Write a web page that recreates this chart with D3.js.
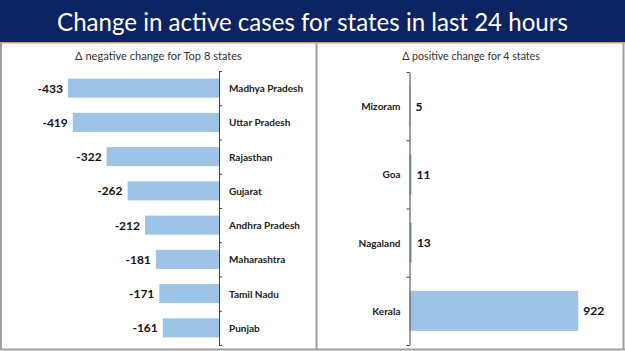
<!DOCTYPE html>
<html><head><meta charset="utf-8">
<script src="https://cdn.jsdelivr.net/npm/d3@7"></script>
<style>
html,body{margin:0;padding:0;background:#fff;}
svg{display:block;}
</style></head>
<body>
<script>
const titleText = "Change in active cases for states in last 24 hours";
const leftSubtitle = "\u0394 negative change for Top 8 states";
const rightSubtitle = "\u0394 positive change for 4 states";
const negStates = ["Madhya Pradesh","Uttar Pradesh","Rajasthan","Gujarat","Andhra Pradesh","Maharashtra","Tamil Nadu","Punjab"];
const negValues = [-433,-419,-322,-262,-212,-181,-171,-161];
const posStates = ["Mizoram","Goa","Nagaland","Kerala"];
const posValues = [5,11,13,922];

const W = 625, H = 351;
const font = "Lato, 'Open Sans', sans-serif";
const barColor = "#9dc3e6";

const svg = d3.select("body").append("svg").attr("width", W).attr("height", H);
svg.append("rect").attr("width", W).attr("height", H).attr("fill", "#fff");

// title bar
svg.append("rect").attr("x",0).attr("y",0).attr("width",W).attr("height",42).attr("fill","#0c2461");
svg.append("rect").attr("x",0).attr("y",42).attr("width",W).attr("height",1.5).attr("fill","#c9a27a");
const title = svg.append("text").attr("x", W/2).attr("y", 21).attr("text-anchor","middle")
  .attr("dominant-baseline","central").attr("fill","#fff")
  .style("font-family", font).style("font-size","26px").text(titleText);
{ const w = title.node().getComputedTextLength(); const fs = 26*511/w; title.style("font-size", fs+"px"); }

// panel borders
const border = "#a0a0a0";
svg.append("line").attr("x1",1).attr("x2",1).attr("y1",43).attr("y2",350).attr("stroke",border).attr("stroke-width",2);
svg.append("line").attr("x1",316.5).attr("x2",316.5).attr("y1",43).attr("y2",350).attr("stroke",border).attr("stroke-width",2);
svg.append("line").attr("x1",623.5).attr("x2",623.5).attr("y1",43).attr("y2",350).attr("stroke",border).attr("stroke-width",2);
svg.append("line").attr("x1",0).attr("x2",W).attr("y1",349.5).attr("y2",349.5).attr("stroke",border).attr("stroke-width",2);

function fitText(sel, target, base){ const w = sel.node().getComputedTextLength(); sel.style("font-size", (base*target/w)+"px"); }

// subtitles
const st1 = svg.append("text").attr("x",158.5).attr("y",55).attr("text-anchor","middle").attr("dominant-baseline","central")
  .attr("fill","#333").style("font-family",font).style("font-size","11px").text(leftSubtitle);
fitText(st1,167,11);
const st2 = svg.append("text").attr("x",471).attr("y",55).attr("text-anchor","middle").attr("dominant-baseline","central")
  .attr("fill","#333").style("font-family",font).style("font-size","11px").text(rightSubtitle);
fitText(st2,138,11);

// LEFT chart
const xL = d3.scaleLinear().domain([-500,0]).range([44.5,219]);
const yL = d3.scaleBand().domain(negStates).range([71,345]).paddingInner(0.445).paddingOuter(0.2225);
const gL = svg.append("g");
gL.selectAll("rect.bar").data(negStates).join("rect").attr("class","bar")
  .attr("x",(d,i)=>xL(negValues[i])).attr("width",(d,i)=>xL(0)-xL(negValues[i]))
  .attr("y",d=>yL(d)).attr("height",yL.bandwidth()).attr("fill",barColor);
const bL = d3.scaleLinear().domain([0,negStates.length]).range([71,345]);
gL.append("g").attr("transform",`translate(${xL(0)},0)`)
  .call(d3.axisRight(bL).tickValues(d3.range(negStates.length+1)).tickFormat("").tickSizeInner(3).tickSizeOuter(0))
  .call(g=>{g.select(".domain").attr("stroke","#404040");g.selectAll(".tick line").attr("stroke","#404040");});
gL.selectAll("text.cat").data(negStates).join("text").attr("class","cat")
  .attr("x",xL(0)+10).attr("y",d=>yL(d)+yL.bandwidth()/2).attr("dominant-baseline","central")
  .attr("fill","#222").style("font-family",font).style("font-weight","bold").style("font-size","10px").text(d=>d);
gL.selectAll("text.val").data(negStates).join("text").attr("class","val")
  .attr("x",(d,i)=>xL(negValues[i])-5).attr("y",d=>yL(d)+yL.bandwidth()/2).attr("text-anchor","end").attr("dominant-baseline","central")
  .attr("fill","#111").style("font-family",font).style("font-weight","bold").style("font-size","12px").text((d,i)=>negValues[i]);

// RIGHT chart
const xR = d3.scaleLinear().domain([0,1000]).range([409.5,592.5]);
const yR = d3.scaleBand().domain(posStates).range([72,345]).paddingInner(0.414).paddingOuter(0.207);
const gR = svg.append("g");
gR.selectAll("rect.bar").data(posStates).join("rect").attr("class","bar")
  .attr("x",xR(0)).attr("width",(d,i)=>xR(posValues[i])-xR(0))
  .attr("y",d=>yR(d)).attr("height",yR.bandwidth()).attr("fill",barColor);
const bR = d3.scaleLinear().domain([0,posStates.length]).range([72,345]);
gR.append("g").attr("transform",`translate(${xR(0)},0)`)
  .call(d3.axisLeft(bR).tickValues(d3.range(posStates.length+1)).tickFormat("").tickSizeInner(3).tickSizeOuter(0))
  .call(g=>{g.select(".domain").attr("stroke","#404040");g.selectAll(".tick line").attr("stroke","#404040");});
gR.selectAll("text.cat").data(posStates).join("text").attr("class","cat")
  .attr("x",xR(0)-9).attr("y",d=>yR(d)+yR.bandwidth()/2).attr("text-anchor","end").attr("dominant-baseline","central")
  .attr("fill","#222").style("font-family",font).style("font-weight","bold").style("font-size","10px").text(d=>d);
gR.selectAll("text.val").data(posStates).join("text").attr("class","val")
  .attr("x",(d,i)=>xR(posValues[i])+5).attr("y",d=>yR(d)+yR.bandwidth()/2).attr("dominant-baseline","central")
  .attr("fill","#111").style("font-family",font).style("font-weight","bold").style("font-size","12px").text((d,i)=>posValues[i]);
</script>
</body></html>
